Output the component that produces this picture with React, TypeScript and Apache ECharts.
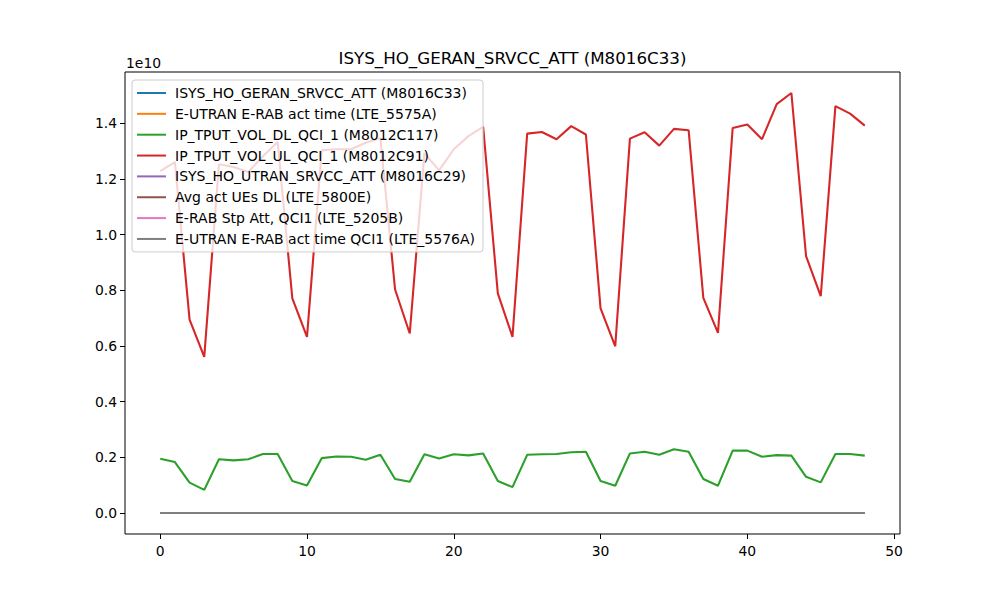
import React, { useEffect, useRef } from "react";
import * as echarts from "echarts";

// values in units of 1e10 (matplotlib offset shown as "1e10")
const seriesNames = [
	"ISYS_HO_GERAN_SRVCC_ATT (M8016C33)",
	"E-UTRAN E-RAB act time (LTE_5575A)",
	"IP_TPUT_VOL_DL_QCI_1 (M8012C117)",
	"IP_TPUT_VOL_UL_QCI_1 (M8012C91)",
	"ISYS_HO_UTRAN_SRVCC_ATT (M8016C29)",
	"Avg act UEs DL (LTE_5800E)",
	"E-RAB Stp Att, QCI1 (LTE_5205B)",
	"E-UTRAN E-RAB act time QCI1 (LTE_5576A)",
];

const colors = [
	"#1f77b4",
	"#ff7f0e",
	"#2ca02c",
	"#d62728",
	"#9467bd",
	"#8c564b",
	"#e377c2",
	"#7f7f7f",
];

const geranAtt = [
	0, 0, 0, 0, 0, 0, 0, 0, 0, 0, 0, 0, 0, 0, 0, 0, 0, 0, 0, 0, 0, 0, 0, 0, 0,
	0, 0, 0, 0, 0, 0, 0, 0, 0, 0, 0, 0, 0, 0, 0, 0, 0, 0, 0, 0, 0, 0, 0, 0,
];
const erabActTime = [
	0.0001, 0.0001, 0.0001, 0.0001, 0.0001, 0.0001, 0.0001, 0.0001, 0.0001,
	0.0001, 0.0001, 0.0001, 0.0001, 0.0001, 0.0001, 0.0001, 0.0001, 0.0001,
	0.0001, 0.0001, 0.0001, 0.0001, 0.0001, 0.0001, 0.0001, 0.0001, 0.0001,
	0.0001, 0.0001, 0.0001, 0.0001, 0.0001, 0.0001, 0.0001, 0.0001, 0.0001,
	0.0001, 0.0001, 0.0001, 0.0001, 0.0001, 0.0001, 0.0001, 0.0001, 0.0001,
	0.0001, 0.0001, 0.0001, 0.0001,
];
const dlQci1 = [
	0.195, 0.183, 0.109, 0.083, 0.193, 0.189, 0.193, 0.212, 0.212, 0.115, 0.099,
	0.197, 0.203, 0.202, 0.191, 0.209, 0.122, 0.112, 0.211, 0.196, 0.211, 0.207,
	0.214, 0.115, 0.093, 0.209, 0.211, 0.212, 0.218, 0.22, 0.115, 0.098, 0.214,
	0.22, 0.209, 0.229, 0.22, 0.122, 0.098, 0.224, 0.224, 0.202, 0.208, 0.206,
	0.13, 0.11, 0.212, 0.212, 0.206,
];
const ulQci1 = [
	1.228, 1.261, 0.695, 0.561, 1.253, 1.243, 1.225, 1.282, 1.333, 0.771, 0.633,
	1.303, 1.307, 1.307, 1.33, 1.347, 0.803, 0.645, 1.293, 1.231, 1.307, 1.354,
	1.387, 0.789, 0.633, 1.363, 1.369, 1.343, 1.39, 1.36, 0.735, 0.599, 1.345,
	1.368, 1.32, 1.38, 1.375, 0.773, 0.647, 1.383, 1.396, 1.343, 1.469, 1.509,
	0.923, 0.779, 1.462, 1.435, 1.392,
];
const utranAtt = [
	0, 0, 0, 0, 0, 0, 0, 0, 0, 0, 0, 0, 0, 0, 0, 0, 0, 0, 0, 0, 0, 0, 0, 0, 0,
	0, 0, 0, 0, 0, 0, 0, 0, 0, 0, 0, 0, 0, 0, 0, 0, 0, 0, 0, 0, 0, 0, 0, 0,
];
const avgActUes = [
	0, 0, 0, 0, 0, 0, 0, 0, 0, 0, 0, 0, 0, 0, 0, 0, 0, 0, 0, 0, 0, 0, 0, 0, 0,
	0, 0, 0, 0, 0, 0, 0, 0, 0, 0, 0, 0, 0, 0, 0, 0, 0, 0, 0, 0, 0, 0, 0, 0,
];
const erabStpAtt = [
	0, 0, 0, 0, 0, 0, 0, 0, 0, 0, 0, 0, 0, 0, 0, 0, 0, 0, 0, 0, 0, 0, 0, 0, 0,
	0, 0, 0, 0, 0, 0, 0, 0, 0, 0, 0, 0, 0, 0, 0, 0, 0, 0, 0, 0, 0, 0, 0, 0,
];
const erabActTimeQci1 = [
	0, 0, 0, 0, 0, 0, 0, 0, 0, 0, 0, 0, 0, 0, 0, 0, 0, 0, 0, 0, 0, 0, 0, 0, 0,
	0, 0, 0, 0, 0, 0, 0, 0, 0, 0, 0, 0, 0, 0, 0, 0, 0, 0, 0, 0, 0, 0, 0, 0,
];

const xTicks = [0, 10, 20, 30, 40, 50];
const yTicks = [0, 0.2, 0.4, 0.6, 0.8, 1.0, 1.2, 1.4];

const allSeries = [
	geranAtt,
	erabActTime,
	dlQci1,
	ulQci1,
	utranAtt,
	avgActUes,
	erabStpAtt,
	erabActTimeQci1,
];

const FONT = "DejaVu Sans";

const App = () => {
	const chartRef = useRef(null);

	useEffect(() => {
		if (!chartRef.current) return;
		const chart = echarts.init(chartRef.current, null, { renderer: "svg" });

		const option = {
			animation: false,
			backgroundColor: "#fff",
			textStyle: { fontFamily: FONT },
			grid: {
				left: 125,
				top: 72,
				width: 775,
				height: 462,
				show: true,
				borderColor: "#000",
				borderWidth: 1,
				backgroundColor: "transparent",
			},
			graphic: [
				{
					type: "text",
					x: 512.5,
					y: 58,
					style: {
						text: "ISYS_HO_GERAN_SRVCC_ATT (M8016C33)",
						font: `16.7px "${FONT}"`,
						fill: "#000",
						textAlign: "center",
						textVerticalAlign: "middle",
					},
				},
				{
					type: "text",
					x: 126,
					y: 63,
					style: {
						text: "1e10",
						font: `13.9px "${FONT}"`,
						fill: "#000",
						textAlign: "left",
						textVerticalAlign: "middle",
					},
				},
			],
			legend: {
				orient: "vertical",
				left: 132,
				top: 80,
				z: 20,
				padding: [5, 8, 5, 5],
				itemGap: 4.85,
				itemWidth: 29,
				itemHeight: 2,
				icon: "rect",
				backgroundColor: "rgba(255,255,255,0.8)",
				borderColor: "#cccccc",
				borderWidth: 1,
				borderRadius: 3,
				textStyle: {
					fontFamily: FONT,
					fontSize: 14,
					color: "#000",
					lineHeight: 16,
					padding: [0, 0, 0, 4],
				},
				data: seriesNames,
			},
			xAxis: {
				type: "value",
				min: -2.4,
				max: 50.4,
				splitLine: { show: false },
				axisLine: { show: false, onZero: false },
				axisTick: {
					show: true,
					length: 5,
					customValues: xTicks,
					lineStyle: { color: "#000" },
				},
				axisLabel: {
					customValues: xTicks,
					margin: 10,
					color: "#000",
					fontFamily: FONT,
					fontSize: 13.9,
				},
			},
			yAxis: {
				type: "value",
				min: -0.0755,
				max: 1.5845,
				splitLine: { show: false },
				axisLine: { show: false, onZero: false },
				axisTick: {
					show: true,
					length: 5,
					customValues: yTicks,
					lineStyle: { color: "#000" },
				},
				axisLabel: {
					customValues: yTicks,
					margin: 8,
					color: "#000",
					fontFamily: FONT,
					fontSize: 13.9,
					formatter: (v) => v.toFixed(1),
				},
			},
			series: allSeries.map((values, k) => ({
				name: seriesNames[k],
				type: "line",
				showSymbol: false,
				symbol: "none",
				data: values.map((v, i) => [i, v]),
				lineStyle: { color: colors[k], width: 2.1 },
				itemStyle: { color: colors[k] },
				z: 2,
			})),
		};

		chart.setOption(option);

		return () => {
			chart.dispose();
		};
	}, []);

	return (
		<div
			ref={chartRef}
			style={{
				position: "absolute",
				left: 0,
				top: 0,
				width: "1000px",
				height: "600px",
			}}
		/>
	);
};

export default App;
